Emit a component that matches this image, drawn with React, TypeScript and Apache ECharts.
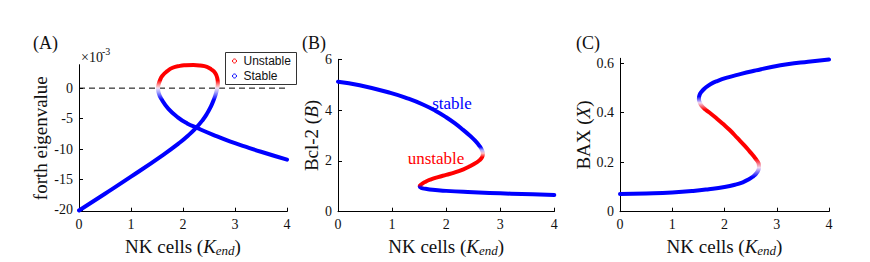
import React, { useEffect, useRef } from "react";
import * as echarts from "echarts";

const SERIF = '"Liberation Serif", "Times New Roman", serif';
const SANS = '"Liberation Sans", Arial, sans-serif';
const BLUE = "#0000ff";
const RED = "#ff0000";

// x ticks shared by all panels
const xTicks = [0, 1, 2, 3, 4];

// Panel A: fourth eigenvalue (x 10^-3) along the continuation curve
const eigX = [0, 0.5, 1.0, 1.62, 1.94, 2.1, 2.26, 2.38, 2.46, 2.53, 2.58, 2.64, 2.67, 2.66, 2.62, 2.54, 2.46, 2.33, 2.2, 2.05, 1.94, 1.8, 1.69, 1.6, 1.56, 1.53, 1.52, 1.53, 1.6, 1.72, 1.9, 2.08, 2.26, 2.58, 2.9, 3.2, 3.5, 4.0];
const eigY = [-20.1, -17.35, -14.55, -10.95, -8.93, -7.78, -6.44, -5.22, -4.22, -3.13, -2.16, -0.66, 0.8, 1.6, 2.46, 3.1, 3.5, 3.72, 3.8, 3.76, 3.66, 3.35, 2.75, 2.0, 1.36, 0.6, 0, -0.7, -2.0, -3.4, -4.8, -5.8, -6.5, -7.67, -8.75, -9.62, -10.45, -11.75];
const eigTicks = [-20, -15, -10, -5, 0];
const eigRange = [-20.3, 3.85];
const eigStops: [number, string][] = [[1.3, RED], [0.5, "#ff9a9a"], [0, "#f0e0f4"], [-0.7, "#a0a0ff"], [-1.9, BLUE]];

// Panel B: Bcl-2
const bclX = [0, 0.4, 0.97, 1.3, 1.58, 1.8, 2.0, 2.17, 2.32, 2.43, 2.54, 2.62, 2.665, 2.68, 2.665, 2.62, 2.55, 2.45, 2.32, 2.15, 2.0, 1.85, 1.72, 1.62, 1.55, 1.51, 1.54, 1.62, 1.75, 2.0, 2.4, 2.8, 3.2, 3.6, 4.0];
const bclY = [5.12, 4.98, 4.68, 4.45, 4.21, 3.976, 3.72, 3.467, 3.21, 3.01, 2.79, 2.58, 2.41, 2.28, 2.15, 2.03, 1.92, 1.8, 1.67, 1.54, 1.45, 1.36, 1.27, 1.18, 1.09, 1.0, 0.94, 0.9, 0.86, 0.82, 0.775, 0.74, 0.71, 0.685, 0.66];
const bclRange = [0, 6];
const bclStops: [number, string][] = [[2.55, BLUE], [2.42, "#b0b0ff"], [2.3, "#ffc0c0"], [2.15, RED], [1.06, RED], [0.96, BLUE]];

// Panel C: BAX
const baxX = [0, 0.5, 1.0, 1.4, 1.7, 2.0, 2.2, 2.35, 2.46, 2.55, 2.61, 2.645, 2.66, 2.655, 2.62, 2.56, 2.48, 2.38, 2.25, 2.1, 1.97, 1.85, 1.74, 1.64, 1.57, 1.53, 1.51, 1.52, 1.56, 1.63, 1.73, 1.86, 2.05, 2.3, 2.6, 2.9, 3.2, 3.6, 4.0];
const baxY = [0.0715, 0.074, 0.078, 0.084, 0.091, 0.1, 0.109, 0.119, 0.13, 0.143, 0.155, 0.167, 0.18, 0.193, 0.207, 0.224, 0.244, 0.268, 0.297, 0.33, 0.355, 0.377, 0.396, 0.412, 0.426, 0.44, 0.455, 0.47, 0.485, 0.5, 0.515, 0.528, 0.542, 0.556, 0.571, 0.585, 0.596, 0.606, 0.615];
const baxTicks = [0, 0.2, 0.4, 0.6];
const baxRange = [0, 0.62];
const baxStops: [number, string][] = [[0.466, BLUE], [0.44, "#f0d8f0"], [0.412, RED], [0.215, RED], [0.178, "#f0d8f0"], [0.14, BLUE]];

const zip = (xs: number[], ys: number[]) => xs.map((x, i) => [x, ys[i]]);

const NAME_SIZE = 19;
const nameRich = {
  a: { fontFamily: SERIF, fontSize: NAME_SIZE, color: "#111" },
  i: { fontFamily: SERIF, fontSize: NAME_SIZE, color: "#111", fontStyle: "italic" },
  s: { fontFamily: SERIF, fontSize: 13, color: "#111", fontStyle: "italic", padding: [8, 0, 0, 0] },
};

function xAxis(gridIndex: number) {
  return {
    type: "value",
    gridIndex,
    min: 0,
    max: 4,
    interval: 1,
    axisLine: { show: true, onZero: false, lineStyle: { color: "#000", width: 1 } },
    axisTick: { show: true, inside: true, length: 4, lineStyle: { color: "#000" } },
    axisLabel: { fontFamily: SERIF, fontSize: 14, color: "#111", margin: 6 },
    splitLine: { show: false },
    name: "{a|NK cells (}{i|K}{s|end}{a|)}",
    nameLocation: "middle",
    nameGap: 19,
    nameTextStyle: { rich: nameRich },
  };
}

function yAxis(gridIndex: number, range: number[], name: string, nameGap: number, extra: any) {
  return {
    type: "value",
    gridIndex,
    min: range[0],
    max: range[1],
    axisLine: { show: true, onZero: false, lineStyle: { color: "#000", width: 1 } },
    axisTick: { show: true, inside: true, length: 4, lineStyle: { color: "#000" }, ...(extra.tick || {}) },
    axisLabel: { fontFamily: SERIF, fontSize: 14, color: "#111", margin: 6, ...(extra.label || {}) },
    splitLine: { show: false },
    name,
    nameLocation: "middle",
    nameGap,
    nameTextStyle: { rich: nameRich },
    ...(extra.axis || {}),
  };
}

function curve(name: string, idx: number, xs: number[], ys: number[]) {
  return {
    name,
    type: "line",
    xAxisIndex: idx,
    yAxisIndex: idx,
    data: zip(xs, ys),
    smooth: 0.5,
    symbol: "none",
    clip: false,
    lineStyle: { width: 4, color: BLUE, cap: "round", join: "round" },
    z: 3,
  };
}

export default function App() {
  const ref = useRef<HTMLDivElement>(null);
  useEffect(() => {
    if (!ref.current) return;
    const chart = echarts.init(ref.current, undefined, { renderer: "svg" });
    const option: any = {
      animation: false,
      backgroundColor: "#fff",
      grid: [
        { left: 79, top: 64.7, width: 208, height: 147 },
        { left: 338, top: 59.3, width: 216.3, height: 152.4 },
        { left: 620, top: 58.3, width: 209, height: 153.4 },
      ],
      xAxis: [xAxis(0), xAxis(1), xAxis(2)],
      yAxis: [
        yAxis(0, eigRange, "{a|forth eigenvalue}", 25, {
          tick: { customValues: eigTicks },
          label: { customValues: eigTicks },
        }),
        yAxis(1, bclRange, "{a|Bcl-2 (}{i|B}{a|)}", 13, { axis: { interval: 2 } }),
        yAxis(2, baxRange, "{a|BAX (}{i|X}{a|)}", 24, {
          tick: { customValues: baxTicks },
          label: { customValues: baxTicks },
        }),
      ],
      series: [
        {
          type: "line",
          xAxisIndex: 0,
          yAxisIndex: 0,
          data: zip([xTicks[0], xTicks[4]], [0, 0]),
          symbol: "none",
          lineStyle: { color: "#000", width: 1, type: [6, 4] },
          z: 2,
        },
        curve("eigenvalue", 0, eigX, eigY),
        curve("Bcl-2", 1, bclX, bclY),
        curve("BAX", 2, baxX, baxY),
      ],
      graphic: [
        { type: "text", left: 33, top: 34, style: { text: "(A)", font: `18px ${SERIF}`, fill: "#111" } },
        { type: "text", left: 302, top: 34, style: { text: "(B)", font: `18px ${SERIF}`, fill: "#111" } },
        { type: "text", left: 576, top: 34, style: { text: "(C)", font: `18px ${SERIF}`, fill: "#111" } },
        { type: "text", x: 81, y: 57, style: { text: "×10", font: `14px ${SERIF}`, fill: "#111", verticalAlign: "middle" } },
        { type: "text", x: 102, y: 51, style: { text: "-3", font: `10px ${SERIF}`, fill: "#111", verticalAlign: "middle" } },
        {
          type: "group",
          left: 225,
          top: 52,
          children: [
            { type: "rect", shape: { x: 0, y: 0, width: 71, height: 32 }, style: { fill: "#fff", stroke: "#333", lineWidth: 1 }, z: 10 },
            { type: "circle", shape: { cx: 9, cy: 8.5, r: 2 }, style: { fill: "none", stroke: RED, lineWidth: 1 }, z: 11 },
            { type: "circle", shape: { cx: 9, cy: 23.5, r: 2 }, style: { fill: "none", stroke: BLUE, lineWidth: 1 }, z: 11 },
            { type: "text", x: 18, y: 8.5, style: { text: "Unstable", font: `12px ${SANS}`, fill: "#111", verticalAlign: "middle" }, z: 11 },
            { type: "text", x: 18, y: 23.5, style: { text: "Stable", font: `12px ${SANS}`, fill: "#111", verticalAlign: "middle" }, z: 11 },
          ],
        },
        { type: "text", x: 452, y: 103, style: { text: "stable", font: `17px ${SERIF}`, fill: BLUE, align: "center", verticalAlign: "middle" } },
        { type: "text", x: 436, y: 158, style: { text: "unstable", font: `17px ${SERIF}`, fill: RED, align: "center", verticalAlign: "middle" } },
      ],
    };
    chart.setOption(option);

    const grad = (gridIndex: number, range: number[], stops: [number, string][]) => {
      const top = chart.convertToPixel({ gridIndex }, [0, range[1]])[1];
      const bot = chart.convertToPixel({ gridIndex }, [0, range[0]])[1];
      return {
        type: "linear",
        x: 0,
        y: top,
        x2: 0,
        y2: bot,
        global: true,
        colorStops: stops.map(([v, c]) => ({ offset: (range[1] - v) / (range[1] - range[0]), color: c })),
      };
    };
    chart.setOption({
      series: [
        {},
        { lineStyle: { color: grad(0, eigRange, eigStops) } },
        { lineStyle: { color: grad(1, bclRange, bclStops) } },
        { lineStyle: { color: grad(2, baxRange, baxStops) } },
      ],
    });
    return () => chart.dispose();
  }, []);
  return <div ref={ref} style={{ position: "absolute", left: 0, top: 0, width: 870, height: 262 }} />;
}
